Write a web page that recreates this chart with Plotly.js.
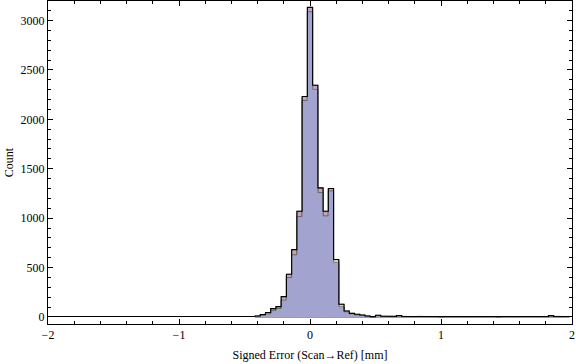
<!DOCTYPE html>
<html>
<head>
<meta charset="utf-8">
<script src="https://cdn.plot.ly/plotly-3.0.1.min.js"></script>
<style>html,body{margin:0;padding:0;background:#fff;}#chart{width:576px;height:364px;}</style>
</head>
<body>
<div id="chart"></div>
<script>
// Bin centers (bin width 0.04)
const binWidth = 0.04;
const binCenters = [-0.40,-0.36,-0.32,-0.28,-0.24,-0.20,-0.16,-0.12,-0.08,-0.04,
  0.00,0.04,0.08,0.12,0.16,0.20,0.24,0.28,0.32,0.36,
  0.40,0.44,0.48,0.52,0.56,0.60,0.64,0.68,0.72,0.76,
  0.80,0.84,0.88,0.92,0.96,1.00,1.04,1.08,1.12,1.16,
  1.20,1.24,1.28,1.32,1.36,1.40,1.44,1.48,1.52,1.56,
  1.60,1.64,1.68,1.72,1.76,1.80,1.84,1.88,1.92,1.96];

// Series counts (pink, beige, blue datasets)
const pinkCounts = [10,24,45,85,105,206,432,682,1070,2231,
  3132,2345,1306,1070,1300,540,100,50,31,18,
  14,8,3,12,7,6,6,5,6,5,
  5,6,5,4,4,0,5,4,5,4,
  4,5,4,5,4,4,0,4,5,4,
  4,5,4,4,4,5,5,4,4,5];
const beigeCounts = [6,20,30,65,85,169,399,628,1016,2190,
  3087,2302,1259,1022,1275,581,129,61,37,27,
  20,10,4,17,6,6,5,15,5,5,
  4,5,5,5,4,0,4,5,4,5,
  4,4,5,4,4,5,0,5,4,4,
  5,4,5,5,4,4,14,5,4,4];
const blueCounts = [6,20,30,65,85,169,399,628,1016,2190,
  3087,2302,1259,1022,1275,551,105,52,32,20,
  15,8,3,12,5,5,4,8,4,4,
  4,4,4,3,3,0,3,3,4,3,
  3,4,3,4,3,3,0,3,4,3,
  3,4,3,3,3,4,8,3,3,4];

const xTickVals = [-2,-1,0,1,2];
const xTickText = ['\u22122','\u22121','0','1','2'];
const yTickVals = [0,500,1000,1500,2000,2500,3000];
const yTickText = ['0','500','1000','1500','2000','2500','3000'];

function stepLine(counts){
  const xs = [binCenters[0]-binWidth/2], ys = [0];
  for (let i=0;i<binCenters.length;i++){
    xs.push(binCenters[i]-binWidth/2, binCenters[i]+binWidth/2);
    ys.push(counts[i], counts[i]);
  }
  xs.push(binCenters[binCenters.length-1]+binWidth/2); ys.push(0);
  return {xs, ys};
}
const envelope = binCenters.map((c,i)=>Math.max(pinkCounts[i],beigeCounts[i],blueCounts[i]));
const env = stepLine(envelope);
const blueTop = stepLine(blueCounts);

const traces = [
  {type:'bar', x:binCenters, y:pinkCounts, width:binWidth,
   marker:{color:'#C9A1B9', line:{color:'#5a5a5a', width:0.8}}, hoverinfo:'skip'},
  {type:'bar', x:binCenters, y:beigeCounts, width:binWidth,
   marker:{color:'#D9D5A9', line:{color:'#5a5a5a', width:0.8}}, hoverinfo:'skip'},
  {type:'bar', x:binCenters, y:blueCounts, width:binWidth,
   marker:{color:'#A3A3CF', line:{color:'#A3A3CF', width:0}}, hoverinfo:'skip'},
  {type:'scatter', mode:'lines', x:blueTop.xs, y:blueTop.ys,
   line:{color:'#6a6a6a', width:0.7}, hoverinfo:'skip'},
  {type:'scatter', mode:'lines', x:env.xs, y:env.ys,
   line:{color:'#000000', width:1.1}, hoverinfo:'skip'}
];

const font = {family:'"Liberation Serif", "Times New Roman", serif', size:12, color:'#000'};
const layout = {
  width:576, height:364,
  margin:{l:48, r:4, t:1, b:40},
  barmode:'overlay', bargap:0,
  showlegend:false,
  paper_bgcolor:'#fff', plot_bgcolor:'#fff',
  font: font,
  xaxis:{
    range:[-2,2], tickmode:'array', tickvals:xTickVals, ticktext:xTickText,
    ticks:'inside', ticklen:5, tickwidth:1, tickcolor:'#000',
    minor:{tickmode:'linear', tick0:0, dtick:0.2, ticks:'inside', ticklen:3, tickcolor:'#000', showgrid:false},
    showline:true, linecolor:'#000', linewidth:1, mirror:'allticks',
    showgrid:false, zeroline:false,
    tickfont:font,
    title:{text:'Signed Error (Scan\u2192Ref) [mm]', font:font, standoff:9}
  },
  yaxis:{
    range:[-71,3197], tickmode:'array', tickvals:yTickVals, ticktext:yTickText,
    ticks:'inside', ticklen:5, tickwidth:1, tickcolor:'#000',
    minor:{tickmode:'linear', tick0:0, dtick:100, ticks:'inside', ticklen:3, tickcolor:'#000', showgrid:false},
    showline:true, linecolor:'#000', linewidth:1, mirror:'allticks',
    showgrid:false, zeroline:true, zerolinecolor:'#000', zerolinewidth:1,
    tickfont:font,
    title:{text:'Count', font:font, standoff:4}
  }
};
Plotly.newPlot('chart', traces, layout, {staticPlot:true, displayModeBar:false});
</script>
</body>
</html>
